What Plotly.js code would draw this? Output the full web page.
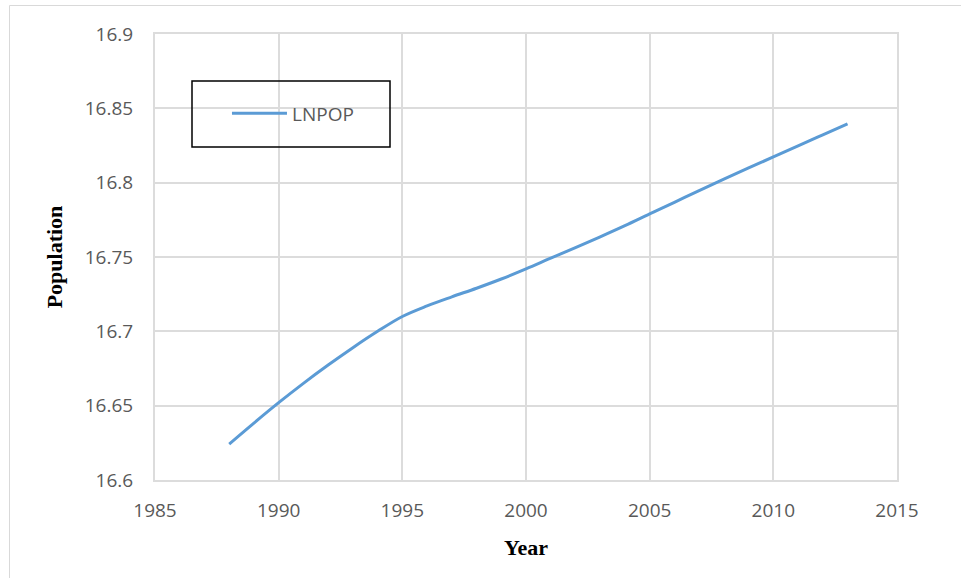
<!DOCTYPE html>
<html>
<head>
<meta charset="utf-8">
<script src="https://cdn.plot.ly/plotly-3.0.1.min.js"></script>
<style>html,body{margin:0;padding:0;background:#fff;}#chart{width:961px;height:578px;}</style>
</head>
<body>
<div id="chart"></div>
<script>
const years = [1988,1989,1990,1991,1992,1993,1994,1995,1996,1997,1998,1999,2000,2001,2002,2003,2004,2005,2006,2007,2008,2009,2010,2011,2012,2013];
const lnpop = [16.6242,16.6383,16.6520,16.6650,16.6773,16.6890,16.7000,16.7100,16.7171,16.7232,16.7290,16.7352,16.7420,16.7492,16.7563,16.7636,16.7711,16.7790,16.7868,16.7947,16.8024,16.8099,16.8173,16.8248,16.8322,16.8396];
const seriesName = "LNPOP";
const xTicks = [1985,1990,1995,2000,2005,2010,2015];
const yTicks = [16.6,16.65,16.7,16.75,16.8,16.85,16.9];
const yTickText = ["16.6","16.65","16.7","16.75","16.8","16.85","16.9"];

const tickFont = {family: "Open Sans, Noto Sans, sans-serif", size: 19, color: "#595959"};
const titleFont = {family: "Liberation Serif, Times New Roman, serif", size: 22, color: "#000"};

const trace = {
  x: years, y: lnpop, name: seriesName, type: "scatter", mode: "lines",
  line: {color: "#5b9bd5", width: 3, shape: "spline", smoothing: 1},
  showlegend: true
};

const layout = {
  width: 961, height: 578,
  margin: {l: 155, r: 64, t: 34, b: 98},
  paper_bgcolor: "#fff", plot_bgcolor: "#fff",
  xaxis: {
    range: [1985, 2015], tickvals: xTicks, ticktext: xTicks.map(String),
    showgrid: true, gridcolor: "#dcdcdc", gridwidth: 2,
    showline: true, linecolor: "#dcdcdc", linewidth: 2, mirror: true,
    zeroline: false, ticks: "", tickfont: tickFont, ticklabelstandoff: 12,
    title: {text: "<b>Year</b>", font: titleFont, standoff: 18}
  },
  yaxis: {
    range: [16.6, 16.9], tickvals: yTicks, ticktext: yTickText,
    showgrid: true, gridcolor: "#dcdcdc", gridwidth: 2,
    showline: true, linecolor: "#dcdcdc", linewidth: 2, mirror: true,
    zeroline: false, ticks: "", tickfont: tickFont, ticklabelstandoff: 16,
    title: {text: "<b>Population</b>", font: titleFont, standoff: 16}
  },
  legend: {
    x: 0.097, y: 0.822, xanchor: "left", yanchor: "middle",
    bgcolor: "rgba(0,0,0,0)", borderwidth: 0,
    font: {family: "Open Sans, Noto Sans, sans-serif", size: 19, color: "#595959"},
    itemwidth: 55
  },
  showlegend: true,
  shapes: [
    {type: "rect", xref: "paper", yref: "paper",
     x0: (192-155)/742, x1: (390-155)/742, y0: (480-147)/446, y1: (480-81)/446,
     line: {color: "#000", width: 1.5}, fillcolor: "rgba(0,0,0,0)", layer: "above"},
    {type: "rect", xref: "paper", yref: "paper",
     x0: (9.5-155)/742, x1: (990-155)/742, y0: (480-600)/446, y1: (480-5.5)/446,
     line: {color: "#d9d9d9", width: 1}, fillcolor: "rgba(0,0,0,0)", layer: "below"}
  ]
};

Plotly.newPlot("chart", [trace], layout, {displayModeBar: false, staticPlot: true});
</script>
</body>
</html>
